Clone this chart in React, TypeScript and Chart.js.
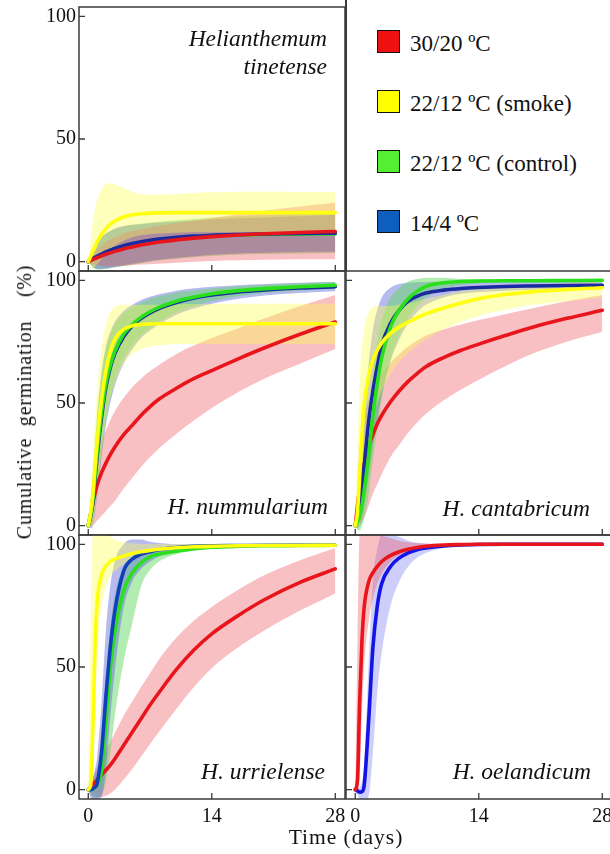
import React, { useEffect, useRef } from "react";
import { Chart, registerables } from "chart.js";
Chart.register(...registerables);

// ---------- data ----------
const DAYS = [0, 0.25, 0.5, 0.75, 1, 1.5, 2, 2.5, 3, 4, 5, 6, 7, 8, 10, 12, 14, 17, 20, 24, 28];
const X_TICKS = [0, 14, 28];
const Y_TICKS = [0, 50, 100];
const LEGEND_LABELS = ["30/20 ºC", "22/12 ºC (smoke)", "22/12 ºC (control)", "14/4 ºC"];
const Y_TITLE = "Cumulative germination\u00a0\u00a0(%)";
const X_TITLE = "Time (days)";

// Helianthemum tinetense
const TIN_RED = [0, 0.4, 0.8, 1.2, 1.6, 2.3, 3.0, 3.6, 4.2, 5.2, 6.0, 6.8, 7.4, 8.0, 8.9, 9.6, 10.2, 10.9, 11.4, 11.9, 12.3];
const TIN_RED_LO = [0, -0.5, -1, -1.3, -1.5, -1.8, -2, -2, -2, -1.8, -1.5, -1.2, -1, -0.8, -0.4, 0, 0.3, 0.6, 0.8, 1, 1];
const TIN_RED_HI = [0, 1.5, 3, 4, 5, 6.5, 8, 9, 10, 11.5, 12.5, 13.3, 14, 14.6, 15.8, 16.8, 17.8, 19.3, 20.8, 22.5, 24];
const TIN_BLUE = [0, 0.6, 1.2, 1.7, 2.2, 3.1, 4.0, 4.7, 5.4, 6.5, 7.4, 8.1, 8.7, 9.2, 9.9, 10.4, 10.8, 11.1, 11.3, 11.5, 11.6];
const TIN_BLUE_LO = [0, -1, -2, -2.6, -3, -3, -2.8, -2.5, -2.2, -1.5, -0.8, -0.2, 0.3, 0.8, 1.5, 2.2, 2.8, 3.3, 3.6, 3.9, 4];
const TIN_BLUE_HI = [0, 2.5, 5, 6.8, 8, 10, 11.5, 12.5, 13.5, 14.5, 15, 15.4, 15.7, 16, 16.4, 16.8, 17.2, 17.6, 18, 18.5, 19];
const TIN_GREEN = [0, 0.5, 1.1, 1.6, 2.0, 2.9, 3.8, 4.5, 5.2, 6.3, 7.2, 7.9, 8.5, 9.0, 9.7, 10.2, 10.6, 10.9, 11.1, 11.2, 11.3];
const TIN_GREEN_LO = [0, -1.2, -2.5, -3, -3.2, -3.2, -3, -2.7, -2.4, -1.8, -1.2, -0.6, 0, 0.5, 1.2, 1.8, 2.3, 2.8, 3.1, 3.3, 3.5];
const TIN_GREEN_HI = [0, 2.5, 5, 6.8, 8, 10, 11.5, 12.5, 13.3, 14.3, 15, 15.5, 15.9, 16.3, 16.9, 17.4, 17.9, 18.5, 19, 19.4, 19.6];
const TIN_YELLOW = [0, 2, 4, 6, 8, 11, 13.5, 15.3, 16.5, 18.2, 19.1, 19.5, 19.8, 19.9, 20, 20, 20, 20, 20, 20, 20];
const TIN_YELLOW_LO = [0, -1.5, -3, -2, -1, 1, 3.5, 5, 6.5, 8.5, 10, 10.8, 11.2, 11.5, 11.8, 12, 12, 12, 12, 12, 12];
const TIN_YELLOW_HI = [0, 8, 16, 21, 25, 29.5, 31.5, 32, 31.5, 30, 28.5, 27.5, 27.3, 27.3, 27.6, 28, 28.3, 28.5, 28.5, 28.4, 28.3];

// H. nummularium
const NUM_RED = [0, 4.5, 9, 13, 16.5, 21.5, 25.5, 29, 32, 37, 41, 45, 48.5, 51.5, 56, 60, 63.2, 68, 72.5, 78, 83];
const NUM_RED_LO = [0, 0, 0, 1, 2, 4, 6, 8, 10, 15, 19.5, 24, 28, 31.5, 37.5, 43, 48, 54.5, 60, 66, 72];
const NUM_RED_HI = [0, 9, 18, 24, 28, 34, 39, 43, 46.5, 52, 56.5, 60, 63, 65.5, 70, 73.5, 76.5, 80.5, 84.5, 89.5, 94];
const NUM_BLUE = [0, 3.5, 9, 18.5, 28, 44, 56.5, 64.5, 70, 77, 81.5, 84.5, 86.7, 88.5, 91, 92.8, 94, 95.3, 96.1, 96.9, 97.4];
const NUM_BLUE_LO = [0, -1, 0, 5, 12, 28, 41, 50, 57, 66, 72, 76.5, 79.5, 82, 86, 88.5, 90.5, 92.5, 93.8, 94.8, 95.5];
const NUM_BLUE_HI = [0, 9, 18, 31, 43, 62, 73, 79, 83, 87.5, 90, 92, 93.3, 94.3, 95.8, 96.8, 97.4, 98, 98.5, 99, 99.3];
const NUM_GREEN = [0, 4, 10, 20, 30, 46, 58, 65.5, 71, 78, 82, 85, 87.2, 89, 91.5, 93.2, 94.5, 95.8, 96.6, 97.4, 98];
const NUM_GREEN_LO = [0, 0, 2, 8, 15, 30, 43, 52, 59, 68, 73.5, 77.5, 80.5, 83, 87, 89.5, 91.5, 93.5, 94.8, 95.8, 96.5];
const NUM_GREEN_HI = [0, 10, 20, 33, 45, 62, 72, 78, 82, 86.5, 89, 91, 92.5, 93.5, 95, 96, 96.8, 97.6, 98.2, 98.8, 99.3];
const NUM_YELLOW = [0, 5, 12, 23, 34, 51, 63, 71, 76, 80, 81.5, 82, 82.2, 82.3, 82.3, 82.3, 82.3, 82.3, 82.3, 82.3, 82.3];
const NUM_YELLOW_LO = [0, 0, 0, 6, 14, 30, 43, 52, 58, 66, 70, 72, 73, 73.5, 74, 74, 74, 74, 74, 74, 74];
const NUM_YELLOW_HI = [0, 12, 25, 41, 55, 72, 82, 87, 89, 90, 90, 90, 90, 90, 90.2, 90.3, 90.4, 90.5, 90.5, 90.5, 90.5];

// H. cantabricum
const CAN_RED = [0, 8, 15, 20.5, 25, 32, 37, 41.5, 45, 50.5, 55, 58.8, 62, 64.8, 68.5, 71.5, 74, 77.5, 80.8, 84.5, 87.8];
const CAN_RED_LO = [0, 0, 0, 1.5, 3, 8, 13, 17, 21, 28, 33, 38, 42, 45.5, 51, 55.5, 59.5, 65, 70, 75, 79];
const CAN_RED_HI = [0, 18, 33, 40, 45, 51, 55, 59, 62, 66.5, 70, 73, 75.5, 77.5, 80, 82, 83.8, 86.2, 88.5, 91.5, 94];
const CAN_BLUE = [0, 2.5, 8, 15, 24, 42, 55, 65, 73.5, 82.5, 88, 91.5, 93.5, 94.8, 96, 96.7, 97.1, 97.5, 97.7, 97.9, 98];
const CAN_BLUE_LO = [0, -1, 0, 3, 8, 20, 33, 43, 53, 67, 76, 82.5, 87, 90, 93, 94.5, 95.2, 95.8, 96.2, 96.5, 96.7];
const CAN_BLUE_HI = [0, 8, 20, 32, 45, 65, 80, 88, 93, 97, 98.5, 99, 99.2, 99.3, 99.4, 99.4, 99.4, 99.4, 99.4, 99.4, 99.4];
const CAN_GREEN = [0, 1.5, 4, 8, 14, 28, 45, 58, 68.5, 81, 88, 92.5, 95.5, 97.5, 99, 99.5, 99.7, 99.8, 99.8, 99.9, 100];
const CAN_GREEN_LO = [0, -1.5, -2, 0, 3, 12, 27, 40, 52, 68, 78, 84.5, 89.5, 93, 96.5, 98, 98.8, 99.2, 99.4, 99.5, 99.6];
const CAN_GREEN_HI = [0, 5, 12, 18, 25, 42, 62, 75, 84, 93, 97, 99.5, 100.5, 101, 101, 100.5, 100.3, 100.2, 100.2, 100.2, 100.2];
const CAN_YELLOW = [0, 5.5, 20, 36, 49, 61, 67.5, 71.5, 74.5, 78.5, 81, 83, 84.8, 86.3, 88.7, 90.8, 92.5, 94.2, 95.3, 96.3, 97];
const CAN_YELLOW_LO = [0, 0, 0, 10, 20, 35, 45, 50, 55, 62, 67, 70.5, 73.5, 76, 80, 83, 85.5, 88, 90, 91.5, 93];
const CAN_YELLOW_HI = [0, 30, 60, 72, 80, 87, 89, 89.5, 89.5, 89.5, 90, 90.5, 91.5, 92.5, 94, 95.5, 96.5, 97.5, 98.2, 98.8, 99.2];

// H. urrielense
const URR_RED = [0, 1, 2, 3, 4, 6, 8, 10, 12.5, 18, 23.5, 29, 34.5, 39.5, 49, 57, 63.5, 71, 77.5, 84.5, 90];
const URR_RED_LO = [0, -1, -2, -2.5, -3, -3, -2.5, -1.5, 0, 4, 8.5, 13.5, 18.5, 23.5, 33, 42, 49.5, 58, 65, 73, 80];
const URR_RED_HI = [0, 3, 5, 7, 9, 12.5, 16, 19.5, 23, 30, 36, 42, 47.5, 53, 62, 69, 74.5, 81.5, 87.5, 93.5, 98.5];
const URR_BLUE = [0, 0, 0.3, 1, 2.5, 15, 38, 58, 72.5, 89, 94, 96, 97, 97.8, 98.7, 99.2, 99.4, 99.5, 99.6, 99.6, 99.6];
const URR_BLUE_LO = [0, -3, -4, -4, -4, -3, 8, 30, 48, 74, 85, 90, 93, 95, 97, 98, 98.6, 99, 99.2, 99.3, 99.3];
const URR_BLUE_HI = [0, 2, 4, 8, 13, 35, 65, 83, 93, 100, 102, 102, 101, 100.5, 100, 100, 100, 100, 100, 100, 100];
const URR_GREEN = [0, 0, 0.2, 0.8, 2, 7.5, 28, 49.5, 64, 81, 88.5, 92.5, 95, 96, 97.2, 98.2, 98.8, 99.2, 99.4, 99.5, 99.6];
const URR_GREEN_LO = [0, -2, -3, -3.5, -3.5, -2, 3, 15, 30, 52, 68, 83, 89.5, 93, 96, 97.5, 98.2, 98.8, 99, 99.2, 99.3];
const URR_GREEN_HI = [0, 1.5, 3, 5, 8, 20, 45, 66, 79, 91, 95, 97, 98, 98.6, 99.2, 99.6, 99.8, 100, 100, 100, 100];
const URR_YELLOW = [0, 1.5, 22, 56, 76, 87.5, 91.2, 93, 94, 95.2, 96.3, 97, 97.5, 98, 98.6, 99, 99.2, 99.4, 99.5, 99.5, 99.6];
const URR_YELLOW_LO = [0, 0, 5, 30, 55, 75, 83, 87, 89, 92, 94, 95.5, 96.5, 97.2, 98, 98.6, 98.9, 99.1, 99.2, 99.3, 99.4];
const URR_YELLOW_HI = [0, 60, 104, 104, 104, 104, 104, 103, 102, 100.8, 100.4, 100.2, 100.1, 100, 100, 100, 100, 100, 100, 100, 100];

// H. oelandicum
const OEL_RED = [0, 4, 36, 60, 74, 84.5, 88.5, 91, 93, 95.5, 97, 98, 98.7, 99.2, 99.7, 99.9, 100, 100, 100, 100, 100];
const OEL_RED_LO = [0, -2, 5, 30, 50, 68, 78, 84, 88, 93, 95.5, 97, 98, 98.8, 99.5, 99.8, 100, 100, 100, 100, 100];
const OEL_RED_HI = [0, 60, 104, 104, 104, 104, 104, 104, 103.5, 102.5, 101.5, 100.8, 100.4, 100.2, 100, 100, 100, 100, 100, 100, 100];
const OEL_BLUE = [0, -0.5, -1, -0.8, 1.5, 27, 58, 75, 84, 91, 94.5, 96.5, 97.8, 98.5, 99.3, 99.7, 99.9, 100, 100, 100, 100];
const OEL_BLUE_LO = [0, -2, -4, -4.5, -4.5, -3, 15, 40, 56, 75, 85, 91, 94.5, 96.5, 98.5, 99.3, 99.7, 99.9, 100, 100, 100];
const OEL_BLUE_HI = [0, 0.5, 1, 3, 10, 50, 85, 98, 104, 104, 103, 101.5, 100.7, 100.3, 100.1, 100, 100, 100, 100, 100, 100];

// ---------- styles ----------
const SERIF = '"Liberation Serif", "Times New Roman", serif';
const RED = { line: "#e8161c", band: "rgba(238,70,82,0.34)", key: "#ee1111" };
const YELLOW = { line: "#ffff10", band: "rgba(255,255,80,0.38)", key: "#ffff00" };
const GREEN = { line: "#2ae01c", band: "rgba(95,215,95,0.48)", key: "#55ee33" };
const BLUE = { line: "#1a2aa0", band: "rgba(95,105,220,0.46)", key: "#0d5ebd" };
const BLUE_URR = { ...BLUE, line: "#1040b8" };
const BLUE_OEL = { ...BLUE, line: "#1414e6", band: "rgba(120,120,240,0.36)" };
const LEGEND_COLORS = [RED.key, YELLOW.key, GREEN.key, BLUE.key];

type Col = { line: string; band: string };
type Ser = { mean: number[]; lo: number[]; hi: number[]; c: Col };
type PanelDef = {
  l: number; t: number; yLabels: boolean; xLabels: boolean;
  series: Ser[]; // bottom -> top
};

const W = 266, H = 264;
const LEFT_X = 79, RIGHT_X = 346;
const ROW_Y = [7, 271, 535];

const PANELS: PanelDef[] = [
  {
    l: LEFT_X, t: ROW_Y[0], yLabels: true, xLabels: false,
    series: [
      { mean: TIN_GREEN, lo: TIN_GREEN_LO, hi: TIN_GREEN_HI, c: GREEN },
      { mean: TIN_BLUE, lo: TIN_BLUE_LO, hi: TIN_BLUE_HI, c: BLUE },
      { mean: TIN_RED, lo: TIN_RED_LO, hi: TIN_RED_HI, c: RED },
      { mean: TIN_YELLOW, lo: TIN_YELLOW_LO, hi: TIN_YELLOW_HI, c: YELLOW },
    ],
  },
  {
    l: LEFT_X, t: ROW_Y[1], yLabels: true, xLabels: false,
    series: [
      { mean: NUM_RED, lo: NUM_RED_LO, hi: NUM_RED_HI, c: RED },
      { mean: NUM_BLUE, lo: NUM_BLUE_LO, hi: NUM_BLUE_HI, c: BLUE },
      { mean: NUM_GREEN, lo: NUM_GREEN_LO, hi: NUM_GREEN_HI, c: GREEN },
      { mean: NUM_YELLOW, lo: NUM_YELLOW_LO, hi: NUM_YELLOW_HI, c: YELLOW },
    ],
  },
  {
    l: RIGHT_X, t: ROW_Y[1], yLabels: false, xLabels: false,
    series: [
      { mean: CAN_RED, lo: CAN_RED_LO, hi: CAN_RED_HI, c: RED },
      { mean: CAN_BLUE, lo: CAN_BLUE_LO, hi: CAN_BLUE_HI, c: BLUE },
      { mean: CAN_GREEN, lo: CAN_GREEN_LO, hi: CAN_GREEN_HI, c: GREEN },
      { mean: CAN_YELLOW, lo: CAN_YELLOW_LO, hi: CAN_YELLOW_HI, c: YELLOW },
    ],
  },
  {
    l: LEFT_X, t: ROW_Y[2], yLabels: true, xLabels: true,
    series: [
      { mean: URR_RED, lo: URR_RED_LO, hi: URR_RED_HI, c: RED },
      { mean: URR_GREEN, lo: URR_GREEN_LO, hi: URR_GREEN_HI, c: GREEN },
      { mean: URR_BLUE, lo: URR_BLUE_LO, hi: URR_BLUE_HI, c: BLUE_URR },
      { mean: URR_YELLOW, lo: URR_YELLOW_LO, hi: URR_YELLOW_HI, c: YELLOW },
    ],
  },
  {
    l: RIGHT_X, t: ROW_Y[2], yLabels: false, xLabels: true,
    series: [
      { mean: OEL_BLUE, lo: OEL_BLUE_LO, hi: OEL_BLUE_HI, c: BLUE_OEL },
      { mean: OEL_RED, lo: OEL_RED_LO, hi: OEL_RED_HI, c: RED },
    ],
  },
];

const SPECIES = [
  { lines: ["Helianthemum", "tinetense"], right: 327, base: 47 },
  { lines: ["H. nummularium"], right: 328, base: 515 },
  { lines: ["H. cantabricum"], right: 590, base: 517 },
  { lines: ["H. urrielense"], right: 325, base: 780 },
  { lines: ["H. oelandicum"], right: 591, base: 780 },
];

const PAD_L_LABELS = 45, PAD_L = 4, PAD_R = 12, PAD_T = 16, PAD_B = 16, X_AXIS_H = 30;

const framePlugin = {
  id: "frame",
  afterDraw(chart: any) {
    const { ctx, chartArea: a, scales } = chart;
    ctx.save();
    ctx.strokeStyle = "#3a3a3a";
    ctx.lineWidth = 1.5;
    ctx.strokeRect(a.left, a.top, a.right - a.left, a.bottom - a.top);
    ctx.lineWidth = 1.3;
    ctx.beginPath();
    X_TICKS.forEach((v) => {
      const px = scales.x.getPixelForValue(v);
      ctx.moveTo(px, a.bottom);
      ctx.lineTo(px, a.bottom - 6);
    });
    Y_TICKS.forEach((v) => {
      const py = scales.y.getPixelForValue(v);
      ctx.moveTo(a.left, py);
      ctx.lineTo(a.left + 6, py);
    });
    ctx.stroke();
    ctx.restore();
  },
};

function Panel({ p }: { p: PanelDef }) {
  const ref = useRef<HTMLCanvasElement>(null);
  const padL = p.yLabels ? PAD_L_LABELS : PAD_L;
  const cw = padL + W + PAD_R;
  const ch = PAD_T + H + (p.xLabels ? X_AXIS_H + 4 : PAD_B);
  useEffect(() => {
    const pts = (arr: number[]) => DAYS.map((d, i) => ({ x: d, y: arr[i] }));
    const datasets: any[] = [];
    p.series.forEach((s) => {
      const loIdx = datasets.length;
      datasets.push({
        data: pts(s.lo), borderWidth: 0, borderColor: "rgba(0,0,0,0)", pointRadius: 0,
        fill: false, cubicInterpolationMode: "monotone",
      });
      datasets.push({
        data: pts(s.hi), borderWidth: 0, borderColor: "rgba(0,0,0,0)", pointRadius: 0,
        fill: { target: loIdx }, backgroundColor: s.c.band, cubicInterpolationMode: "monotone",
      });
    });
    p.series.forEach((s) => {
      datasets.push({
        data: pts(s.mean), borderWidth: 3.6, borderColor: s.c.line, pointRadius: 0,
        fill: false, cubicInterpolationMode: "monotone", borderCapStyle: "round",
      });
    });
    const total = datasets.length;
    datasets.forEach((d, i) => (d.order = total - i));

    const tickFont = { family: SERIF, size: 20 };
    const chart = new Chart(ref.current as HTMLCanvasElement, {
      type: "line",
      data: { datasets },
      plugins: [framePlugin],
      options: {
        animation: false,
        responsive: false,
        events: [],
        layout: {
          padding: {
            left: p.yLabels ? 0 : PAD_L,
            right: PAD_R,
            top: PAD_T,
            bottom: p.xLabels ? 4 : PAD_B,
          },
        },
        plugins: { legend: { display: false }, tooltip: { enabled: false } },
        scales: {
          x: {
            type: "linear",
            min: -1.05,
            max: 29.1,
            afterBuildTicks: (s: any) => { s.ticks = X_TICKS.map((v) => ({ value: v })); },
            afterFit: (s: any) => { s.height = p.xLabels ? X_AXIS_H : 0; },
            grid: { display: false, drawTicks: false },
            border: { display: false },
            ticks: {
              display: p.xLabels, font: tickFont, color: "#111", padding: 6,
              maxRotation: 0, autoSkip: false,
            },
          },
          y: {
            type: "linear",
            min: -3.8,
            max: 103.8,
            afterBuildTicks: (s: any) => { s.ticks = Y_TICKS.map((v) => ({ value: v })); },
            afterFit: (s: any) => { s.width = p.yLabels ? PAD_L_LABELS : 0; },
            grid: { display: false, drawTicks: false },
            border: { display: false },
            ticks: { display: p.yLabels, font: tickFont, color: "#111", padding: 3, autoSkip: false },
          },
        },
      } as any,
    });
    return () => chart.destroy();
  }, []);
  return (
    <canvas
      ref={ref}
      width={cw}
      height={ch}
      style={{
        position: "absolute",
        left: p.l - padL,
        top: p.t - PAD_T,
        width: cw,
        height: ch,
      }}
    />
  );
}

export default function App() {
  const speciesFont = 23.5;
  return (
    <div
      style={{
        position: "absolute", left: 0, top: 0, width: 610, height: 854,
        overflow: "hidden", background: "#fff", fontFamily: SERIF, color: "#111",
      }}
    >
      {PANELS.map((p, i) => (
        <Panel key={i} p={p} />
      ))}
      {/* legend panel border */}
      <div style={{ position: "absolute", left: 345, top: 0, width: 1.5, height: 271, background: "#3a3a3a" }} />
      {LEGEND_LABELS.map((lab, i) => (
        <React.Fragment key={lab}>
          <div
            style={{
              position: "absolute", left: 377, top: 30 + i * 60, width: 21, height: 21,
              background: LEGEND_COLORS[i], border: "1.6px solid #111",
            }}
          />
          <div
            style={{
              position: "absolute", left: 410, top: 51.7 + i * 60 - 0.8375 * 23,
              fontSize: 23, lineHeight: 1, whiteSpace: "nowrap",
            }}
          >
            {lab}
          </div>
        </React.Fragment>
      ))}
      {SPECIES.map((s, i) =>
        s.lines.map((ln, j) => (
          <div
            key={i + "-" + j}
            style={{
              position: "absolute", left: s.right - 300, width: 300, textAlign: "right",
              top: s.base + j * 28 - 0.8375 * speciesFont, fontSize: speciesFont,
              lineHeight: 1, fontStyle: "italic", whiteSpace: "nowrap",
            }}
          >
            {ln}
          </div>
        ))
      )}
      <div
        style={{
          position: "absolute", left: 24, top: 402, fontSize: 20, lineHeight: 1,
          letterSpacing: 0.8, wordSpacing: 6, whiteSpace: "nowrap",
          transform: "translate(-50%, -50%) rotate(-90deg)",
        }}
      >
        {Y_TITLE}
      </div>
      <div
        style={{
          position: "absolute", left: 346, top: 838, fontSize: 21.5, lineHeight: 1,
          letterSpacing: 1, whiteSpace: "nowrap", transform: "translate(-50%, -50%)",
        }}
      >
        {X_TITLE}
      </div>
    </div>
  );
}
